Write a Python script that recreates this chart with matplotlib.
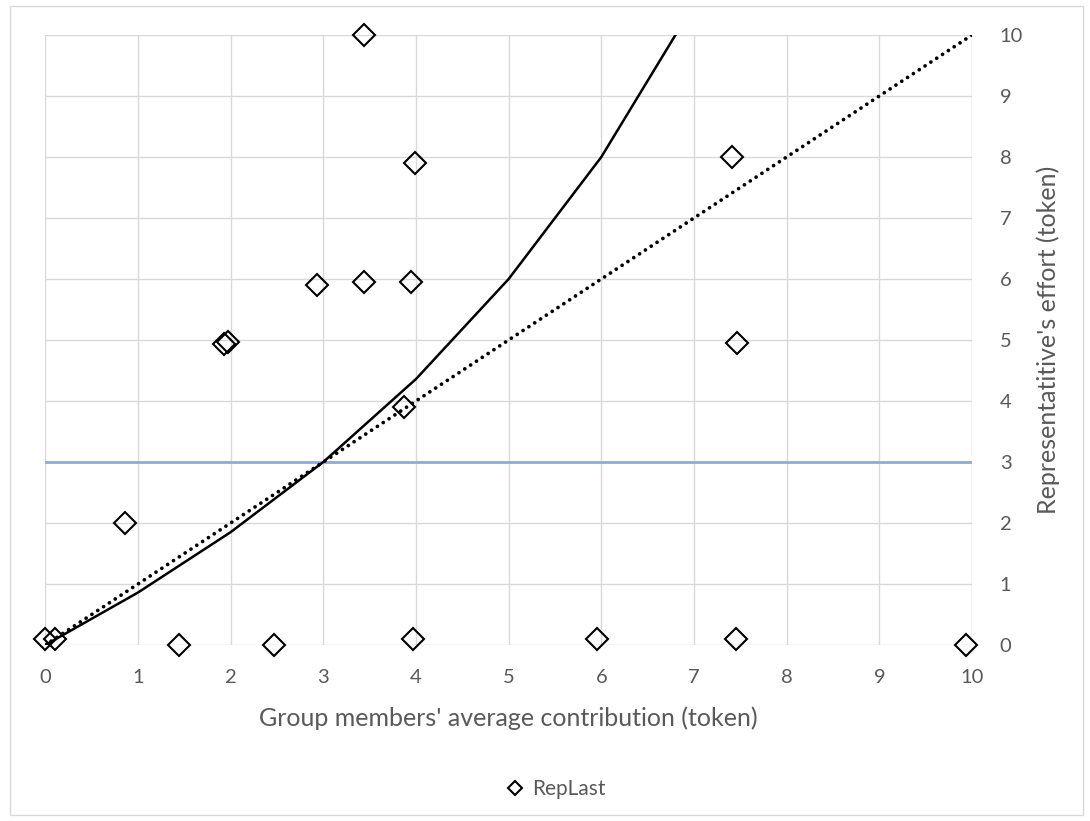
import matplotlib
matplotlib.use("Agg")
import matplotlib.pyplot as plt
from matplotlib.lines import Line2D
from matplotlib.patches import Rectangle

# Observed pairs: group members' average contribution vs representative's effort
avg_contribution = [0.0, 0.1, 1.44, 2.47, 0.86, 1.93, 1.97, 2.93, 3.44, 3.95,
                    3.87, 3.44, 3.99, 3.97, 5.95, 7.45, 9.94, 7.41, 7.46]
rep_effort = [0.1, 0.1, 0.0, 0.0, 2.0, 4.93, 4.96, 5.9, 5.95, 5.95,
              3.9, 10.0, 7.9, 0.1, 0.1, 0.1, 0.0, 8.0, 4.95]

# Reference curve (piecewise linear between integer contributions)
curve_x = [0, 1, 2, 3, 4, 5, 6, 7]
curve_y = [0, 0.86, 1.85, 3, 4.36, 6, 8, 10.5]

# 45-degree line
diag_x = [0, 10]
diag_y = [0, 10]

# Horizontal threshold
threshold_y = 3
x_ticks = list(range(0, 11))
y_ticks = list(range(0, 11))

W, H = 1090, 821
fig = plt.figure(figsize=(W / 100, H / 100), dpi=100)
plt.rcParams['font.family'] = ['Lato', 'DejaVu Sans']

txt = "#595959"
grid_c = "#D9D9D9"

# chart-area border
fig.patches.append(Rectangle((10 / W, 1 - 815 / H), (1083 - 10) / W, (815 - 6) / H,
                             transform=fig.transFigure, fill=False,
                             edgecolor=grid_c, linewidth=1.0))

left, right = 45.3, 972.0
top, bottom = 35.0, 645.0
ax = fig.add_axes([left / W, 1 - bottom / H, (right - left) / W, (bottom - top) / H])
ax.set_xlim(0, 10)
ax.set_ylim(0, 10)
for s in ax.spines.values():
    s.set_visible(False)
ax.set_xticks(x_ticks)
ax.set_yticks(y_ticks)
ax.yaxis.tick_right()
ax.tick_params(axis='both', length=0, labelsize=14.5, labelcolor=txt)
ax.tick_params(axis='x', pad=17)
ax.tick_params(axis='y', pad=20)
ax.grid(True, color=grid_c, linewidth=1.0, zorder=0)
ax.set_axisbelow(True)

ax.plot([0, 10], [threshold_y, threshold_y], color="#8FAADC", linewidth=2.0, zorder=2)
ax.plot(curve_x, curve_y, color="black", linewidth=1.8, zorder=3)
ax.plot(diag_x, diag_y, color="black", linewidth=2.7, dashes=(0.01, 1.85),
        dash_capstyle='round', zorder=3)
ax.plot(avg_contribution, rep_effort, linestyle='none', marker='D', markersize=11,
        markerfacecolor='none', markeredgecolor='black', markeredgewidth=1.5,
        clip_on=False, zorder=4)

ax.set_xlabel("Group members' average contribution (token)", fontsize=18, color=txt)
ax.xaxis.set_label_coords(0.5, (bottom - 718) / (bottom - top))
ax.xaxis.label.set_verticalalignment('center')
ax.yaxis.set_label_position('right')
ax.set_ylabel("Representatitive's effort (token)", fontsize=18, color=txt, rotation=90)
ax.yaxis.set_label_coords((1048 - left) / (right - left), 0.5)
ax.yaxis.label.set_verticalalignment('center')
ax.yaxis.label.set_horizontalalignment('center')

handle = Line2D([], [], linestyle='none', marker='D', markersize=7,
                markerfacecolor='none', markeredgecolor='black', markeredgewidth=1.5)
fig.legend([handle], ["RepLast"], loc='center', bbox_to_anchor=(556 / W, 1 - 789 / H),
           frameon=False, fontsize=15, labelcolor=txt, handlelength=0.8,
           handletextpad=0.4)

fig.savefig("out.png", dpi=100)
